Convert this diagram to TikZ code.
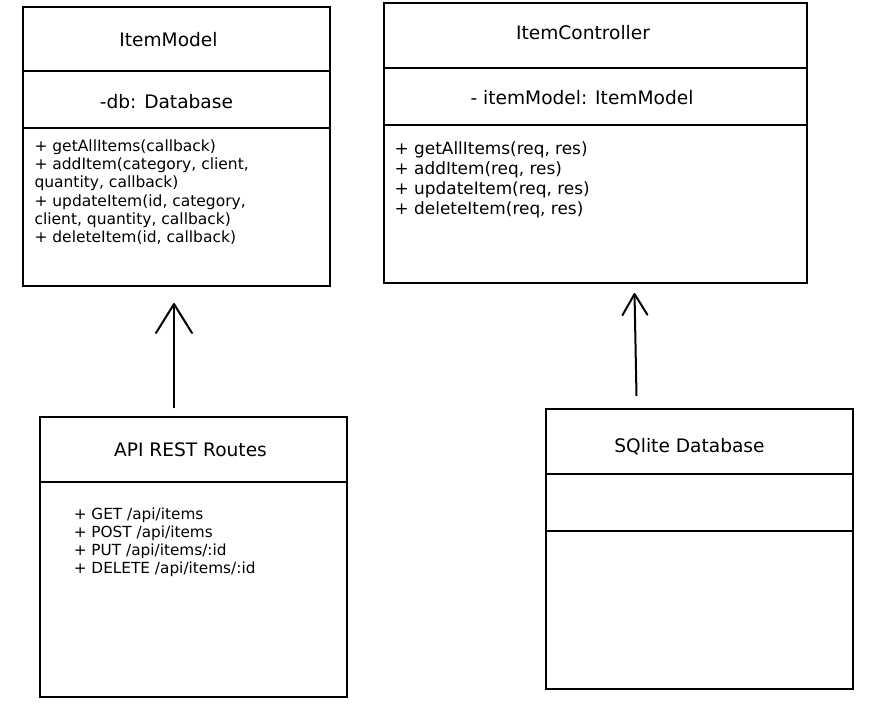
\documentclass[tikz,border=0pt]{standalone}
\usepackage{fontspec}
\setmainfont{DejaVu Sans}
\usetikzlibrary{arrows.meta}
\begin{document}
\begin{tikzpicture}[x=1pt,y=-1pt,
  box/.style={draw=black, line width=1.1pt, rectangle, inner sep=0pt},
  sep/.style={draw=black, line width=1.1pt},
  titletext/.style={anchor=base, inner sep=0pt, font=\fontsize{18.6}{22}\selectfont},
  smalllist/.style={anchor=north west, inner sep=0pt, align=left, font=\fontsize{15.5}{18.3}\selectfont},
  biglist/.style={anchor=north west, inner sep=0pt, align=left, font=\fontsize{16.9}{20}\selectfont},
  routelist/.style={anchor=north west, inner sep=0pt, align=left, font=\fontsize{15.3}{18.1}\selectfont},
  assocbig/.style={draw=black, line width=2pt, -{Straight Barb[length=29pt,width=36pt,line join=round,line cap=round]}},
  assocsmall/.style={draw=black, line width=2pt, -{Straight Barb[length=21pt,width=25pt,line join=round,line cap=round]}}
]
\useasboundingbox (0,0) rectangle (869,706);
\fill[white] (0,0) rectangle (869,706);

% ItemModel
\node[box, minimum width=307pt, minimum height=279pt] (model) at (176.5,146.5) {};
\draw[sep] (23,71) -- (330,71);
\draw[sep] (23,128) -- (330,128);
\node[titletext] (modelT) at (168.5,46.7) {ItemModel};
\node[titletext] (modelA) at (166.4,108.3) {-db: Database};
\node[smalllist] (modelM) at (34.3,139.2) {+ getAllItems(callback)\\+ addItem(category, client,\\quantity, callback)\\+ updateItem(id, category,\\client, quantity, callback)\\+ deleteItem(id, callback)};

% ItemController
\node[box, minimum width=423pt, minimum height=280pt] (ctrl) at (595.5,143) {};
\draw[sep] (384,68) -- (807,68);
\draw[sep] (384,125) -- (807,125);
\node[titletext] (ctrlT) at (583,39.3) {ItemController};
\node[titletext] (ctrlA) at (582,105) {- itemModel: ItemModel};
\node[biglist] (ctrlM) at (394.5,141.2) {+ getAllItems(req, res)\\+ addItem(req, res)\\+ updateItem(req, res)\\+ deleteItem(req, res)};

% API REST Routes
\node[box, minimum width=307pt, minimum height=280pt] (routes) at (193.5,557) {};
\draw[sep] (40,482) -- (347,482);
\node[titletext] (routesT) at (190.5,456.7) {API REST Routes};
\node[routelist] (routesM) at (73.6,507.4) {+ GET /api/items\\+ POST /api/items\\+ PUT /api/items/:id\\+ DELETE /api/items/:id};

% SQlite Database
\node[box, minimum width=307pt, minimum height=280pt] (db) at (699.5,549) {};
\draw[sep] (546,474) -- (853,474);
\draw[sep] (546,531) -- (853,531);
\node[titletext] (dbT) at (689.5,452.3) {SQlite Database};

% connectors
\coordinate (routesOut) at (174,408);
\coordinate (modelIn) at (174,303);
\coordinate (dbOut) at (636.5,396);
\coordinate (ctrlIn) at (634.5,293);
\draw[assocbig] (routesOut) -- (modelIn);
\draw[assocsmall] (dbOut) -- (ctrlIn);
\end{tikzpicture}
\end{document}
